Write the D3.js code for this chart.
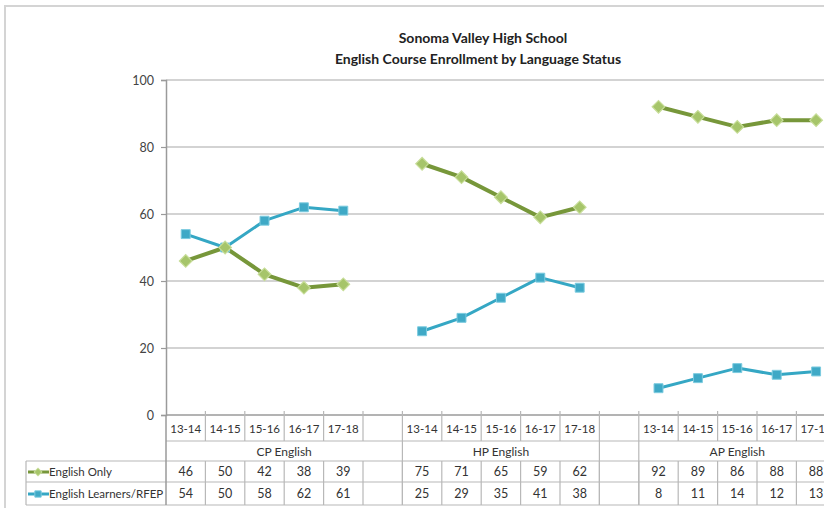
<!DOCTYPE html>
<html>
<head>
<meta charset="utf-8">
<script src="https://cdn.jsdelivr.net/npm/d3@7"></script>
<style>
  body { margin: 0; background: #fff; }
  svg { display: block; font-family: Lato, "Open Sans", sans-serif; }
</style>
</head>
<body>
<div id="chart"></div>
<script>
// данные
const titleLines = ['Sonoma Valley High School', 'English Course Enrollment by Language Status'];
const years = ['13-14', '14-15', '15-16', '16-17', '17-18'];
const courses = ['CP English', 'HP English', 'AP English'];
const englishOnly = [46, 50, 42, 38, 39, 75, 71, 65, 59, 62, 92, 89, 86, 88, 88];
const englishLearners = [54, 50, 58, 62, 61, 25, 29, 35, 41, 38, 8, 11, 14, 12, 13];
const yTicks = [0, 20, 40, 60, 80, 100];
const seriesNames = ['English Only', 'English Learners/RFEP'];

const width = 824, height = 508;
const svg = d3.select('#chart').append('svg')
    .attr('width', width).attr('height', height);

// Колонки: 5 лет на курс + пустая колонка между курсами
const slots = [];
courses.forEach((c, ci) => {
    years.forEach((y, yi) => {
        slots.push({ key: c + y, year: y, course: c, eo: englishOnly[ci * 5 + yi], el: englishLearners[ci * 5 + yi] });
    });
    if (ci < courses.length - 1) slots.push({ key: 'blank' + ci, year: '', course: null, eo: null, el: null });
});

const left = 166, colW = 39.4;
const x = d3.scaleBand().domain(slots.map(d => d.key)).range([left, left + slots.length * colW]).padding(0);
const y = d3.scaleLinear().domain([0, 100]).range([415, 80]);

// рамка
svg.append('path')
    .attr('d', `M5,${height} V6 H${width}`)
    .attr('fill', 'none').attr('stroke', '#d4d4d4').attr('stroke-width', 2);

// заголовок
svg.append('text').attr('x', 483).attr('y', 43).attr('text-anchor', 'middle')
    .style('font-size', '14px').style('font-weight', 'bold').attr('fill', '#222').text(titleLines[0]);
svg.append('text').attr('x', 478).attr('y', 64).attr('text-anchor', 'middle')
    .style('font-size', '14px').style('font-weight', 'bold').attr('fill', '#222').text(titleLines[1]);

// сетка
svg.selectAll('.grid').data(yTicks.filter(t => t > 0)).enter().append('line')
    .attr('x1', left).attr('x2', width)
    .attr('y1', d => y(d)).attr('y2', d => y(d))
    .attr('stroke', '#c4c4c4').attr('stroke-width', 1.5);

// ось Y
const yAxis = svg.append('g').attr('transform', `translate(${left},0)`)
    .call(d3.axisLeft(y).tickValues(yTicks).tickSize(5).tickPadding(7));
yAxis.select('.domain').attr('stroke', '#9a9a9a').attr('stroke-width', 1.5);
yAxis.selectAll('.tick line').attr('stroke', '#9a9a9a').attr('stroke-width', 1.2);
yAxis.selectAll('.tick text').attr('fill', '#444').style('font-size', '12.5px')
    .style('font-family', 'Lato, sans-serif');

// ось X (линия 0)
svg.append('line').attr('x1', left).attr('x2', width).attr('y1', y(0)).attr('y2', y(0))
    .attr('stroke', '#9a9a9a').attr('stroke-width', 1.5);

// таблица данных
const rowYear = [415, 441], rowGroup = [441, 461], rowEO = [461, 482], rowEL = [482, 505];
const tbl = svg.append('g').attr('stroke', '#b8b8b8').attr('stroke-width', 1.2);
[rowYear[1], rowGroup[1], rowEO[1], rowEL[1]].forEach(yy => {
    tbl.append('line').attr('x1', yy === rowYear[1] ? left : 26).attr('x2', width)
        .attr('y1', yy).attr('y2', yy);
});
// вертикальные линии
tbl.append('line').attr('x1', left).attr('x2', left).attr('y1', y(0)).attr('y2', rowEL[1])
    .attr('stroke', '#9a9a9a').attr('stroke-width', 1.5);
tbl.append('line').attr('x1', 26).attr('x2', 26).attr('y1', rowGroup[1]).attr('y2', rowEL[1]);
// группы: CP включает пустую колонку, затем HP, пустая, AP
const groupSpans = [];
let gi = 0;
courses.forEach((c, ci) => {
    const span = ci === 0 ? 6 : 5;
    groupSpans.push({ label: c, start: gi, n: span });
    gi += span;
    if (ci === 1) { groupSpans.push({ label: '', start: gi, n: 1 }); gi += 1; }
});
const groupEdges = new Set(groupSpans.map(g => g.start + g.n));
slots.forEach((s, i) => {
    const xx = x(s.key) + x.bandwidth();
    tbl.append('line').attr('x1', xx).attr('x2', xx)
        .attr('y1', y(0) - 4).attr('y2', groupEdges.has(i + 1) ? rowEL[1] : rowYear[1]);
    tbl.append('line').attr('x1', xx).attr('x2', xx).attr('y1', rowEO[0]).attr('y2', rowEL[1]);
});

const txt = svg.append('g').attr('fill', '#333').style('font-size', '12.5px').attr('text-anchor', 'middle');
slots.forEach(s => {
    const cx = x(s.key) + x.bandwidth() / 2;
    if (s.year) txt.append('text').attr('x', cx).attr('y', 433).style('font-size', '11.5px').text(s.year);
    if (s.eo != null) txt.append('text').attr('x', cx).attr('y', 476).text(s.eo);
    if (s.el != null) txt.append('text').attr('x', cx).attr('y', 498).text(s.el);
});
groupSpans.forEach(g => {
    const x0 = x(slots[g.start].key);
    txt.append('text').attr('x', x0 + g.n * colW / 2).attr('y', 456).style('font-size', '12px').text(g.label);
});

// серии
const colors = { eoLine: '#77973a', eoFill: '#a6c56a', eoStroke: '#c7dd98', elLine: '#35a7c4', elFill: '#3fa9c6', elStroke: '#7ccbdf' };
const cx = d => x(d.key) + x.bandwidth() / 2;

const lineEO = d3.line().defined(d => d.eo != null).x(cx).y(d => y(d.eo));
const lineEL = d3.line().defined(d => d.el != null).x(cx).y(d => y(d.el));

svg.append('path').datum(slots).attr('d', lineEL)
    .attr('fill', 'none').attr('stroke', colors.elLine).attr('stroke-width', 3).attr('stroke-linejoin', 'round');
svg.append('path').datum(slots).attr('d', lineEO)
    .attr('fill', 'none').attr('stroke', colors.eoLine).attr('stroke-width', 4).attr('stroke-linejoin', 'round');

// ромб = квадрат, повернутый на 45°
const diamond = d3.symbol().type(d3.symbolSquare).size(80);
const square = d3.symbol().type(d3.symbolSquare).size(80);

svg.selectAll('.mk-el').data(slots.filter(d => d.el != null)).enter().append('path')
    .attr('d', square).attr('transform', d => `translate(${cx(d)},${y(d.el)})`)
    .attr('fill', colors.elFill).attr('stroke', colors.elStroke).attr('stroke-width', 1);
svg.selectAll('.mk-eo').data(slots.filter(d => d.eo != null)).enter().append('path')
    .attr('d', diamond).attr('transform', d => `translate(${cx(d)},${y(d.eo)}) rotate(45)`)
    .attr('fill', colors.eoFill).attr('stroke', colors.eoStroke).attr('stroke-width', 1.2);

// легенда в таблице
const leg = [
    { name: seriesNames[0], yy: 472, line: colors.eoLine, fill: colors.eoFill, stroke: colors.eoStroke, sym: d3.symbol().type(d3.symbolSquare).size(30), rot: 45 },
    { name: seriesNames[1], yy: 494, line: colors.elLine, fill: colors.elFill, stroke: colors.elStroke, sym: d3.symbol().type(d3.symbolSquare).size(40), rot: 0 }
];
leg.forEach(l => {
    svg.append('line').attr('x1', 28).attr('x2', 49).attr('y1', l.yy).attr('y2', l.yy)
        .attr('stroke', l.line).attr('stroke-width', 3);
    svg.append('path').attr('d', l.sym).attr('transform', `translate(38,${l.yy}) rotate(${l.rot})`)
        .attr('fill', l.fill).attr('stroke', l.stroke);
    svg.append('text').attr('x', 49).attr('y', l.yy + 4).attr('fill', '#333')
        .style('font-size', '11.5px').text(l.name);
});
</script>
</body>
</html>
